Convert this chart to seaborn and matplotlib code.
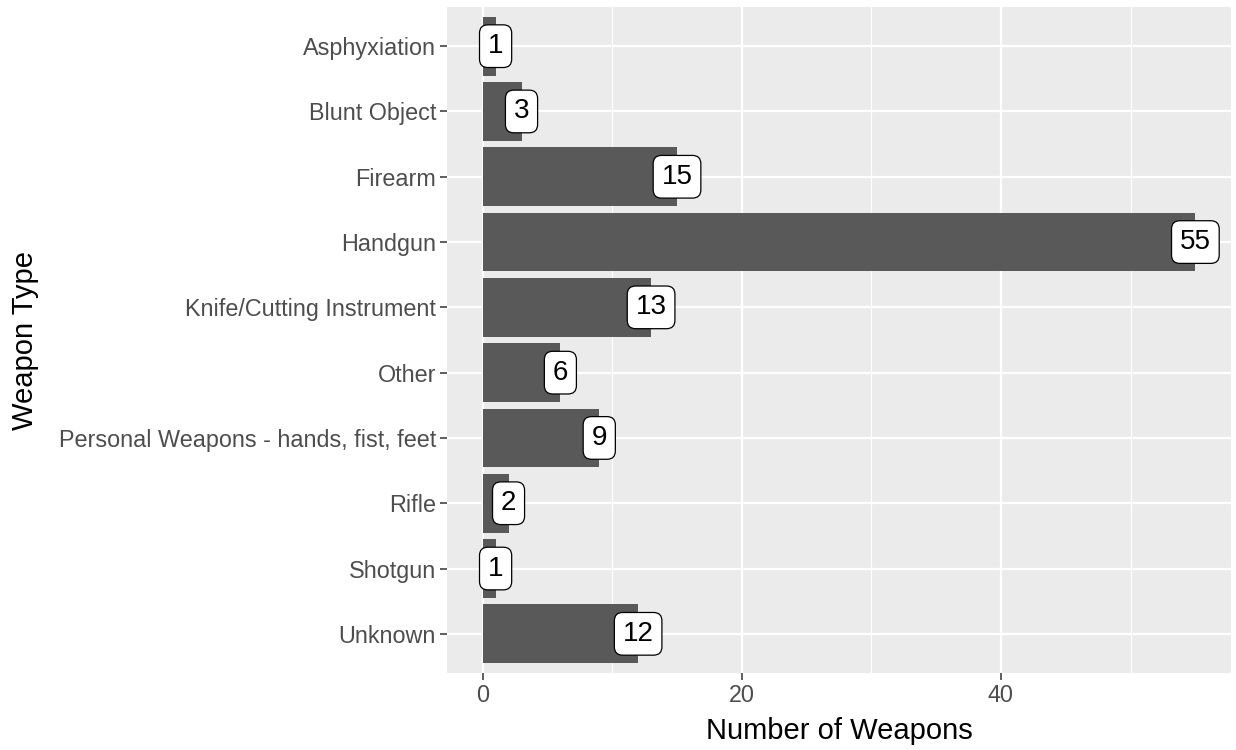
import matplotlib
matplotlib.use("Agg")
import matplotlib.pyplot as plt
import seaborn as sns
import pandas as pd

# Data
weapon_types = ['Asphyxiation', 'Blunt Object', 'Firearm', 'Handgun',
                'Knife/Cutting Instrument', 'Other',
                'Personal Weapons - hands, fist, feet', 'Rifle', 'Shotgun', 'Unknown']
counts = [1, 3, 15, 55, 13, 6, 9, 2, 1, 12]

df = pd.DataFrame({'weapon': weapon_types, 'n': counts})

sns.set_style("white")
plt.rcParams['font.family'] = ['Liberation Sans', 'DejaVu Sans']

fig = plt.figure(figsize=(12.36, 7.5), dpi=100)
ax = fig.add_axes([447/1236, 1 - 673/750, (1231 - 447)/1236, (673 - 7)/750])
ax.set_facecolor('#EBEBEB')

sns.barplot(data=df, x='n', y='weapon', order=weapon_types, color='#595959',
            saturation=1, width=0.9, linewidth=0, ax=ax, zorder=3)

# ggplot-like grid
for v in [10, 30, 50]:
    ax.axvline(v, color='white', lw=0.8, zorder=1)
for v in [0, 20, 40]:
    ax.axvline(v, color='white', lw=1.6, zorder=1)
for i in range(len(weapon_types)):
    ax.axhline(i, color='white', lw=1.6, zorder=1)

# labels
for i, n in enumerate(counts):
    ax.text(n, i, str(n), ha='center', va='center', fontsize=20, color='black', zorder=5,
            bbox=dict(boxstyle='round,pad=0.3,rounding_size=0.3', fc='white', ec='black', lw=0.9))

ax.set_xlim(-2.75, 57.75)
ax.set_ylim(len(weapon_types) - 0.4, -0.6)
ax.set_xticks([0, 20, 40])
for s in ax.spines.values():
    s.set_visible(False)
ax.tick_params(axis='both', length=5, width=1.1, color='#333333', labelcolor='#4D4D4D',
               labelsize=16.8, bottom=True, left=True, pad=3)
ax.set_xlabel('Number of Weapons', fontsize=21, color='black', labelpad=7)
ax.set_ylabel('Weapon Type', fontsize=21, color='black', labelpad=14)

plt.savefig('out.png', dpi=100)
